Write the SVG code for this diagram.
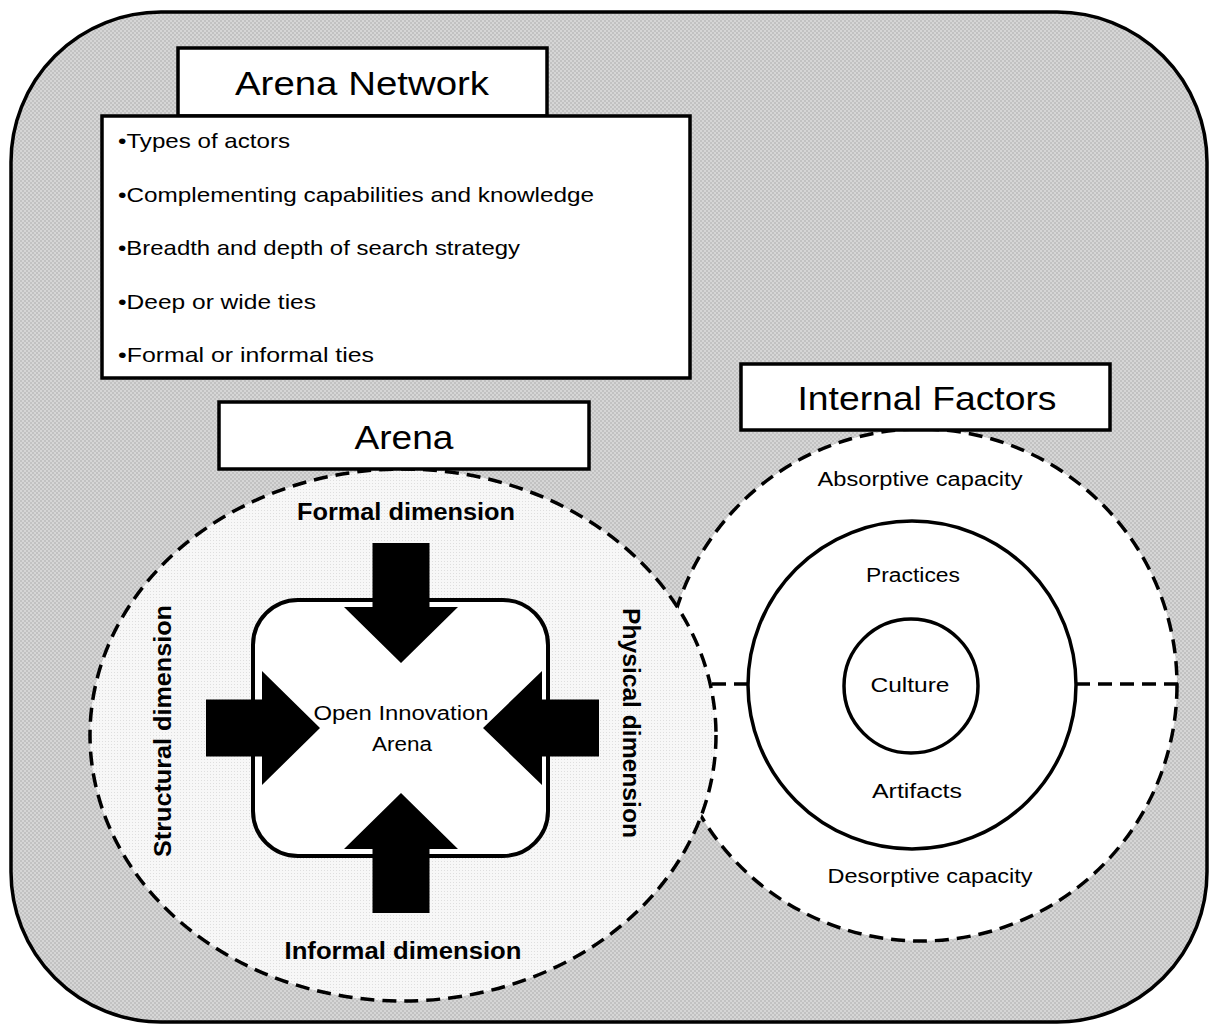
<svg xmlns="http://www.w3.org/2000/svg" width="1213" height="1028" viewBox="0 0 1213 1028">
  <defs>
    <!-- fine checker texture for the outer panel -->
    <pattern id="checker" width="4" height="4" patternUnits="userSpaceOnUse">
      <rect width="4" height="4" fill="#d6d6d6"/>
      <rect width="2" height="2" fill="#c2c2c2"/>
      <rect x="2" y="2" width="2" height="2" fill="#c2c2c2"/>
    </pattern>
    <!-- light dotted texture for the arena ellipse -->
    <pattern id="dots" width="3" height="3" patternUnits="userSpaceOnUse">
      <rect width="3" height="3" fill="#f7f7f7"/>
      <rect width="1" height="1" fill="#dedede"/>
    </pattern>
    <style>
      .box { fill: #ffffff; stroke: #000000; stroke-width: 3.5; }
      .dash { fill: none; stroke: #000000; stroke-width: 3.5; stroke-dasharray: 14 8; }
      .ring { fill: none; stroke: #000000; stroke-width: 3.5; }
      .title { font-family: "Liberation Sans", Arial, sans-serif; font-size: 33px; fill: #000; text-anchor: middle; }
      .bullet { font-family: "Liberation Sans", Arial, sans-serif; font-size: 21px; fill: #000; }
      .dim { font-family: "Liberation Sans", Arial, sans-serif; font-size: 23px; font-weight: bold; fill: #000; text-anchor: middle; }
      .lbl { font-family: "Liberation Sans", Arial, sans-serif; font-size: 20px; fill: #000; text-anchor: middle; }
      .arrow { fill: #000000; }
    </style>
  </defs>

  <!-- outer panel -->
  <g id="panel">
    <rect x="11" y="12" width="1196" height="1010" rx="150" ry="150" fill="url(#checker)" stroke="#000" stroke-width="3.5"/>
  </g>

  <!-- internal factors area -->
  <g id="internal-factors-area">
    <circle cx="921" cy="685" r="256" class="dash" style="fill:#ffffff"/>
  </g>

  <g id="connectors">
    <line x1="712" y1="684" x2="749" y2="684" class="dash"/>
    <line x1="1076" y1="684" x2="1178" y2="684" class="dash"/>
  </g>

  <g id="practices-ring">
    <circle cx="912" cy="685" r="164" class="ring"/>
  </g>
  <g id="culture-ring">
    <circle cx="911" cy="686" r="67" class="ring"/>
  </g>

  <!-- arena ellipse -->
  <g id="arena-area">
    <ellipse cx="403" cy="735" rx="313" ry="266" class="dash" style="fill:url(#dots)"/>
  </g>

  <!-- open innovation arena core -->
  <g id="open-innovation-arena">
    <rect x="253" y="600" width="295" height="256" rx="45" ry="45" fill="#ffffff" stroke="#000" stroke-width="4"/>
    <text class="lbl" x="401" y="720" textLength="175" lengthAdjust="spacingAndGlyphs">Open Innovation</text>
    <text class="lbl" x="402" y="751" textLength="60" lengthAdjust="spacingAndGlyphs">Arena</text>
  </g>

  <!-- inward arrows -->
  <g id="arrows">
    <polygon class="arrow" points="372.5,543 429.5,543 429.5,607 458,607 401,663 344,607 372.5,607"/>
    <polygon class="arrow" points="372.5,913 429.5,913 429.5,849 458,849 401,793 344,849 372.5,849"/>
    <polygon class="arrow" points="206,699.5 262,699.5 262,671 320,728 262,785 262,756.5 206,756.5"/>
    <polygon class="arrow" points="599,699.5 542,699.5 542,671 483,728 542,785 542,756.5 599,756.5"/>
  </g>

  <!-- dimension labels -->
  <g id="formal-dimension">
    <text class="dim" x="406" y="520" textLength="218" lengthAdjust="spacingAndGlyphs">Formal dimension</text>
  </g>
  <g id="informal-dimension">
    <text class="dim" x="403" y="959" textLength="237" lengthAdjust="spacingAndGlyphs">Informal dimension</text>
  </g>
  <g id="structural-dimension">
    <text class="dim" transform="translate(171 731) rotate(-90)" x="0" y="0" textLength="252" lengthAdjust="spacingAndGlyphs">Structural dimension</text>
  </g>
  <g id="physical-dimension">
    <text class="dim" transform="translate(623 723) rotate(90)" x="0" y="0" textLength="230" lengthAdjust="spacingAndGlyphs">Physical dimension</text>
  </g>

  <!-- internal factor labels -->
  <g id="absorptive-capacity">
    <text class="lbl" x="920" y="486" textLength="205" lengthAdjust="spacingAndGlyphs">Absorptive capacity</text>
  </g>
  <g id="practices">
    <text class="lbl" x="913" y="582" textLength="94" lengthAdjust="spacingAndGlyphs">Practices</text>
  </g>
  <g id="culture">
    <text class="lbl" x="910" y="692" textLength="79" lengthAdjust="spacingAndGlyphs">Culture</text>
  </g>
  <g id="artifacts">
    <text class="lbl" x="917" y="798" textLength="90" lengthAdjust="spacingAndGlyphs">Artifacts</text>
  </g>
  <g id="desorptive-capacity">
    <text class="lbl" x="930" y="883" textLength="205" lengthAdjust="spacingAndGlyphs">Desorptive capacity</text>
  </g>

  <!-- title boxes -->
  <g id="arena-title">
    <rect class="box" x="219" y="402" width="370" height="67"/>
    <text class="title" x="404" y="449" textLength="99" lengthAdjust="spacingAndGlyphs">Arena</text>
  </g>
  <g id="internal-factors-title">
    <rect class="box" x="741" y="364" width="369" height="66"/>
    <text class="title" x="927" y="410" textLength="259" lengthAdjust="spacingAndGlyphs">Internal Factors</text>
  </g>
  <g id="arena-network-title">
    <rect class="box" x="178" y="48" width="369" height="68"/>
    <text class="title" x="362" y="95" textLength="254" lengthAdjust="spacingAndGlyphs">Arena Network</text>
  </g>

  <!-- arena network bullet list -->
  <g id="arena-network-list">
    <rect class="box" x="102" y="116" width="588" height="262"/>
    <text class="bullet" x="118" y="148" textLength="172" lengthAdjust="spacingAndGlyphs">•Types of actors</text>
    <text class="bullet" x="118" y="202" textLength="476" lengthAdjust="spacingAndGlyphs">•Complementing capabilities and knowledge</text>
    <text class="bullet" x="118" y="255" textLength="402" lengthAdjust="spacingAndGlyphs">•Breadth and depth of search strategy</text>
    <text class="bullet" x="118" y="309" textLength="198" lengthAdjust="spacingAndGlyphs">•Deep or wide ties</text>
    <text class="bullet" x="118" y="362" textLength="256" lengthAdjust="spacingAndGlyphs">•Formal or informal ties</text>
  </g>
</svg>
